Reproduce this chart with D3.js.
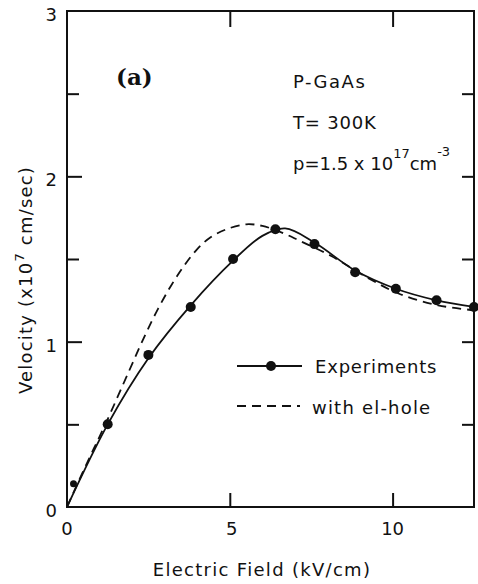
<!DOCTYPE html>
<html>
<head>
  <meta charset="utf-8">
  <title>P-GaAs velocity vs field</title>
  <script src="https://cdn.jsdelivr.net/npm/d3@7"></script>
  <style>
    body { margin: 0; background: #fff; }
    svg text { font-family: "DejaVu Sans", sans-serif; fill: #111; }
    .lbl { font-size: 18px; }
  </style>
</head>
<body>
  <svg id="chart" width="478" height="584"></svg>
  <script>
    // experimental points (kV/cm, 1e7 cm/s)
    var expField = [0.2, 1.25, 2.5, 3.8, 5.1, 6.4, 7.6, 8.85, 10.1, 11.35, 12.5];
    var expVel = [0.14, 0.5, 0.92, 1.21, 1.5, 1.68, 1.59, 1.42, 1.32, 1.25, 1.21];
    // solid fit through experiments
    var fitField = [0, 1.25, 2.5, 3.8, 5.1, 6.0, 6.7, 7.6, 8.85, 10.1, 11.35, 12.5];
    var fitVel = [0, 0.5, 0.9, 1.22, 1.49, 1.64, 1.685, 1.6, 1.43, 1.32, 1.25, 1.21];
    // dashed: with el-hole scattering
    var ehField = [0, 0.6, 1.2, 1.9, 2.4, 2.8, 3.2, 3.6, 4.0, 4.4, 4.9, 5.5, 6.0, 6.6, 7.15, 8.1, 9.2, 10.2, 11.4, 12.5];
    var ehVel = [0, 0.26, 0.51, 0.82, 1.04, 1.2, 1.34, 1.46, 1.56, 1.63, 1.68, 1.71, 1.70, 1.66, 1.61, 1.52, 1.39, 1.29, 1.22, 1.19];

    var xTicks = [0, 5, 10];
    var yTicks = [0, 1, 2, 3];
    var yMinor = [0.5, 1.5, 2.5];

    var svg = d3.select("#chart");
    var x = d3.scaleLinear().domain([0, 12.5]).range([67, 474]);
    var y = d3.scaleLinear().domain([0, 3]).range([507, 11]);

    function zip(a, b) { return a.map(function (d, i) { return [d, b[i]]; }); }
    function tidy(g) { g.select(".domain").remove(); g.selectAll("line").attr("stroke-width", 2).attr("stroke", "#111"); }

    // frame
    svg.append("rect")
      .attr("x", x(0)).attr("y", y(3))
      .attr("width", x(12.5) - x(0)).attr("height", y(0) - y(3))
      .attr("fill", "none").attr("stroke", "#111").attr("stroke-width", 2);

    // inward ticks on all four sides
    svg.append("g").attr("transform", "translate(0," + y(0) + ")")
      .call(d3.axisBottom(x).tickValues(xTicks.slice(1)).tickSize(-14).tickFormat("")).call(tidy);
    svg.append("g").attr("transform", "translate(0," + y(3) + ")")
      .call(d3.axisTop(x).tickValues(xTicks.slice(1)).tickSize(-16).tickFormat("")).call(tidy);
    svg.append("g").attr("transform", "translate(" + x(0) + ",0)")
      .call(d3.axisLeft(y).tickValues([1, 2]).tickSize(-15).tickFormat("")).call(tidy);
    svg.append("g").attr("transform", "translate(" + x(0) + ",0)")
      .call(d3.axisLeft(y).tickValues(yMinor).tickSize(-12).tickFormat("")).call(tidy);
    svg.append("g").attr("transform", "translate(" + x(12.5) + ",0)")
      .call(d3.axisRight(y).tickValues(yMinor.concat([1, 2])).tickSize(-12).tickFormat("")).call(tidy);

    svg.selectAll(".xl").data(xTicks).enter().append("text")
      .attr("class", "lbl").attr("x", function (d) { return x(d) + (d === 5 ? 2 : 0); }).attr("y", 535)
      .attr("text-anchor", "middle").text(function (d) { return d; });
    svg.selectAll(".yl").data(yTicks).enter().append("text")
      .attr("class", "lbl").attr("x", 57).attr("y", function (d) { return y(d) + 10; })
      .attr("text-anchor", "end").text(function (d) { return d; });

    // curves
    var line = d3.line().x(function (d) { return x(d[0]); }).y(function (d) { return y(d[1]); })
      .curve(d3.curveCatmullRom.alpha(0.5));
    svg.append("path").datum(zip(ehField, ehVel)).attr("d", line)
      .attr("fill", "none").attr("stroke", "#111").attr("stroke-width", 1.8)
      .attr("stroke-dasharray", "9,6");
    svg.append("path").datum(zip(fitField, fitVel)).attr("d", line)
      .attr("fill", "none").attr("stroke", "#111").attr("stroke-width", 1.8);
    svg.selectAll(".pt").data(zip(expField, expVel)).enter().append("circle")
      .attr("cx", function (d) { return x(d[0]); }).attr("cy", function (d) { return y(d[1]); })
      .attr("r", function (d, i) { return i === 0 ? 3.5 : 5; }).attr("fill", "#111");

    // legend
    svg.append("line").attr("x1", 237).attr("x2", 302).attr("y1", 366).attr("y2", 366)
      .attr("stroke", "#111").attr("stroke-width", 1.8);
    svg.append("circle").attr("cx", 271).attr("cy", 366).attr("r", 5).attr("fill", "#111");
    svg.append("text").attr("class", "lbl").attr("x", 315).attr("y", 373)
      .attr("letter-spacing", "0.8").text("Experiments");
    svg.append("line").attr("x1", 237).attr("x2", 300).attr("y1", 406).attr("y2", 406)
      .attr("stroke", "#111").attr("stroke-width", 1.8).attr("stroke-dasharray", "9,6");
    svg.append("text").attr("class", "lbl").attr("x", 312).attr("y", 414)
      .attr("letter-spacing", "1.2").text("with el-hole");

    // annotations
    svg.append("text").attr("x", 116).attr("y", 85)
      .style("font-family", "'DejaVu Serif', serif").style("font-size", "23px").style("font-weight", "bold")
      .text("(a)");
    svg.append("text").attr("class", "lbl").attr("x", 293).attr("y", 88)
      .attr("letter-spacing", "1.5").text("P-GaAs");
    svg.append("text").attr("class", "lbl").attr("x", 293).attr("y", 129)
      .attr("letter-spacing", "0.8").text("T= 300K");
    var p = svg.append("text").attr("class", "lbl").attr("x", 293).attr("y", 170);
    p.append("tspan").text("p=1.5 x 10");
    p.append("tspan").attr("dy", -12).style("font-size", "13px").text("17");
    p.append("tspan").attr("dy", 12).text("cm");
    p.append("tspan").attr("dy", -14).style("font-size", "13px").text("-3");

    // axis titles
    svg.append("text").attr("class", "lbl").attr("x", 262).attr("y", 576)
      .attr("text-anchor", "middle").attr("letter-spacing", "1.3").text("Electric Field (kV/cm)");
    var yt = svg.append("text").attr("class", "lbl")
      .attr("transform", "translate(32,280) rotate(-90)").attr("text-anchor", "middle")
      .attr("letter-spacing", "1.2");
    yt.append("tspan").text("Velocity  (x10");
    yt.append("tspan").attr("dy", -8).style("font-size", "13px").text("7");
    yt.append("tspan").attr("dy", 8).text(" cm/sec)");
  </script>
</body>
</html>
